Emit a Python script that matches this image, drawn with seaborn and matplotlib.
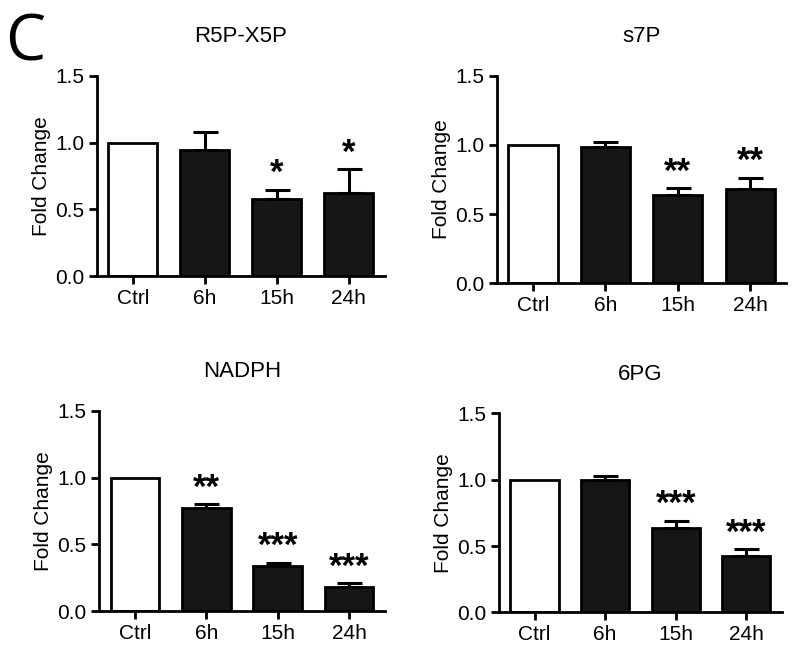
import numpy as np
import pandas as pd
import seaborn as sns
import matplotlib.pyplot as plt

groups = ["Ctrl", "6h", "15h", "24h"]

r5p_mean = [1.0, 0.945, 0.575, 0.62]
r5p_err = [0.0, 0.135, 0.07, 0.18]
r5p_stars = ["", "", "*", "*"]

s7p_mean = [1.0, 0.988, 0.638, 0.681]
s7p_err = [0.0, 0.03, 0.048, 0.082]
s7p_stars = ["", "", "**", "**"]

nadph_mean = [1.0, 0.77, 0.338, 0.182]
nadph_err = [0.0, 0.03, 0.025, 0.025]
nadph_stars = ["", "**", "***", "***"]

pg6_mean = [1.0, 0.997, 0.639, 0.426]
pg6_err = [0.0, 0.028, 0.053, 0.051]
pg6_stars = ["", "", "***", "***"]

sns.set_theme(style="ticks")
plt.rcParams['font.family'] = ['Liberation Sans', 'DejaVu Sans']
plt.rcParams.update({"text.color": "black", "axes.labelcolor": "black",
                     "xtick.color": "black", "ytick.color": "black"})

fig = plt.figure(figsize=(8, 6.48), dpi=100)

panels = [
    ("R5P-X5P", r5p_mean, r5p_err, r5p_stars, [0.121, 0.574, 0.360, 0.309]),
    ("s7P", s7p_mean, s7p_err, s7p_stars, [0.621, 0.563, 0.362, 0.320]),
    ("NADPH", nadph_mean, nadph_err, nadph_stars, [0.124, 0.057, 0.357, 0.309]),
    ("6PG", pg6_mean, pg6_err, pg6_stars, [0.624, 0.055, 0.353, 0.307]),
]

palette = {"Ctrl": "white", "6h": "#161616", "15h": "#161616", "24h": "#161616"}

for title, mean, err, stars, rect in panels:
    ax = fig.add_axes(rect)
    df = pd.DataFrame({"group": groups, "fold": mean})
    sns.barplot(data=df, x="group", y="fold", hue="group", palette=palette,
                legend=False, edgecolor="black", linewidth=2, width=0.68, ax=ax)

    # one-sided (upper) error bars, none on the control
    idx = [i for i, e in enumerate(err) if e > 0]
    ax.errorbar(idx, [mean[i] for i in idx],
                yerr=[[0] * len(idx), [err[i] for i in idx]],
                fmt="none", ecolor="black", elinewidth=2.2, capsize=9,
                capthick=2.2, zorder=1)

    for i, s in enumerate(stars):
        if s:
            ax.text(i, mean[i] + err[i] + 0.05, s, ha="center", va="baseline",
                    fontsize=25, fontweight="bold", color="black")

    ax.set_ylim(0, 1.5)
    ax.set_xlim(-0.5, 3.5)
    ax.set_yticks([0, 0.5, 1.0, 1.5])
    ax.set_yticklabels(["0.0", "0.5", "1.0", "1.5"])
    ax.set_xlabel("")
    ax.set_ylabel("Fold Change", fontsize=15, labelpad=3)
    ax.set_title(title, fontsize=16, pad=24)
    ax.tick_params(axis="both", width=2, length=6, labelsize=15, color="black",
                   pad=3)
    for sp in ["top", "right"]:
        ax.spines[sp].set_visible(False)
    for sp in ["left", "bottom"]:
        ax.spines[sp].set_linewidth(2)
        ax.spines[sp].set_color("black")

fig.text(0.006, 0.982, "C", fontsize=46, va="top", ha="left",
         family=["Open Sans", "DejaVu Sans"])

fig.savefig("out.png", dpi=100)
